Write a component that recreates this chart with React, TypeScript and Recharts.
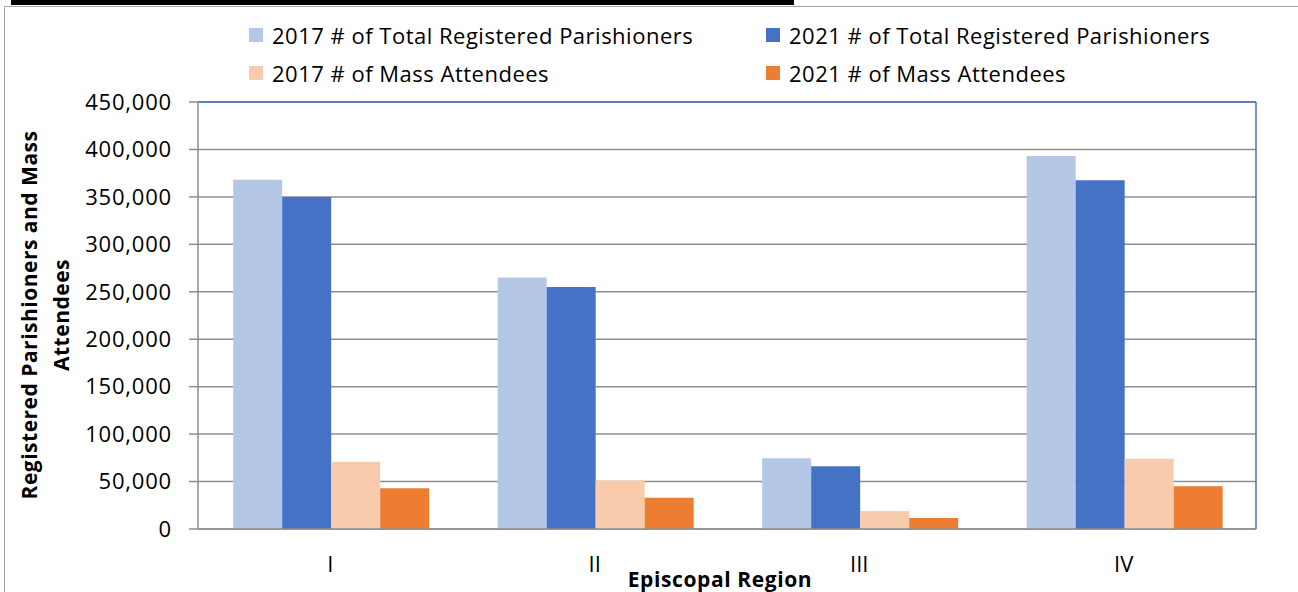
import React from 'react'
import { BarChart, Bar, XAxis, YAxis, CartesianGrid, ReferenceLine } from 'recharts'

const regions = ['I', 'II', 'III', 'IV']
const registered2017 = [368000, 265000, 74500, 393000]
const registered2021 = [350000, 255000, 66000, 367500]
const mass2017 = [71000, 51000, 19000, 74000]
const mass2021 = [43000, 33000, 11500, 45000]
const yTicks = [0, 50000, 100000, 150000, 200000, 250000, 300000, 350000, 400000, 450000]
const edgeTicks = [0, 1, 2, 3, 4]

const series = [
  { key: 'r2017', name: '2017 # of Total Registered Parishioners', color: '#B4C7E7' },
  { key: 'r2021', name: '2021 # of Total Registered Parishioners', color: '#4472C4' },
  { key: 'm2017', name: '2017 # of Mass Attendees', color: '#F8CBAD' },
  { key: 'm2021', name: '2021 # of Mass Attendees', color: '#ED7D31' },
]

const data = regions.map((region, i) => ({
  region,
  r2017: registered2017[i],
  r2021: registered2021[i],
  m2017: mass2017[i],
  m2021: mass2021[i],
}))

const FONT = '"Open Sans", sans-serif'
const GRAY = '#8e8e8e'
const BLUE = '#4472C4'

function Legend() {
  // 2 x 2 grid, same order as Excel
  const cols = [249, 766]
  const rows = [35, 73]
  return (
    <>
      {series.map((s, i) => (
        <div
          key={s.key}
          style={{
            position: 'absolute',
            left: cols[i % 2],
            top: rows[Math.floor(i / 2)] - 14,
            height: 28,
            display: 'flex',
            alignItems: 'center',
            fontFamily: FONT,
            fontSize: 22,
            letterSpacing: 0.5,
            color: '#000',
            whiteSpace: 'nowrap',
          }}
        >
          <span style={{ width: 14, height: 14, background: s.color, marginRight: 9 }} />
          {s.name}
        </div>
      ))}
    </>
  )
}

function CatTick({ x, y, payload }: any) {
  return (
    <text x={x} y={y + 26} textAnchor="middle" dominantBaseline="central"
      fontSize={22} fill="#000" fontFamily={FONT}>
      {payload.value}
    </text>
  )
}

export default function App() {
  return (
    <div style={{ position: 'absolute', left: 0, top: 0, width: 1298, height: 592, background: '#fff', overflow: 'hidden' }}>
      <div style={{ position: 'absolute', left: 11, top: 0, width: 783, height: 5, background: '#000' }} />
      <div style={{ position: 'absolute', left: 4, top: 6, width: 1400, height: 700, borderLeft: '1px solid #a6a6a6', borderTop: '1px solid #a6a6a6' }} />
      <Legend />
      <div style={{ position: 'absolute', left: 0, top: 0 }}>
        <BarChart
          width={1298} height={592} data={data}
          margin={{ top: 102, right: 41, left: 98, bottom: 0 }}
          barCategoryGap="13.3%" barGap={0}
          style={{ fontFamily: FONT }}
        >
          <CartesianGrid horizontal vertical={false} stroke={GRAY} strokeWidth={1.5} />
          <XAxis
            xAxisId="cat" dataKey="region" axisLine={false} tickLine={false}
            tickSize={0} tickMargin={0} height={55} tick={<CatTick />}
            label={{
              content: () => (
                <text x={720} y={579} textAnchor="middle" dominantBaseline="central"
                  fontSize={21} letterSpacing={0.6} fontWeight="bold" fill="#000" fontFamily={FONT}>
                  Episcopal Region
                </text>
              ),
            }}
          />
          <XAxis
            xAxisId="a_edge" type="number" domain={[0, 4]} ticks={edgeTicks}
            tick={false} tickSize={8} height={8} allowDataOverflow
            axisLine={{ stroke: GRAY, strokeWidth: 1.5 }}
            tickLine={{ stroke: GRAY, strokeWidth: 1.5 }}
          />
          <YAxis
            domain={[0, 450000]} ticks={yTicks} width={100}
            tickSize={9} tickMargin={17}
            tick={{ fill: '#000', fontSize: 22, letterSpacing: 0.8, fontFamily: FONT }}
            tickFormatter={(v: number) => v.toLocaleString('en-US')}
            axisLine={{ stroke: GRAY, strokeWidth: 1.5 }}
            tickLine={{ stroke: GRAY, strokeWidth: 1.5 }}
            label={{
              content: () => (
                <text transform="translate(0,315) rotate(-90)" textAnchor="middle"
                  fontSize={21} letterSpacing={0.5} fontWeight="bold" fill="#000" fontFamily={FONT}>
                  <tspan x={0} y={37}>Registered Parishioners and Mass</tspan>
                  <tspan x={0} y={69}>Attendees</tspan>
                </text>
              ),
            }}
          />
          <YAxis
            yAxisId="frame" orientation="right" domain={[0, 450000]} width={1}
            tick={false} tickLine={false} axisLine={{ stroke: BLUE, strokeWidth: 1.5 }}
          />
          <ReferenceLine y={450000} xAxisId="cat" stroke={BLUE} strokeWidth={1.5} />
          <ReferenceLine x={4} xAxisId="a_edge" stroke={BLUE} strokeWidth={1.5} ifOverflow="visible" />
          {series.map(s => (
            <Bar key={s.key} dataKey={s.key} name={s.name} xAxisId="cat"
              fill={s.color} isAnimationActive={false} />
          ))}
        </BarChart>
      </div>
    </div>
  )
}
